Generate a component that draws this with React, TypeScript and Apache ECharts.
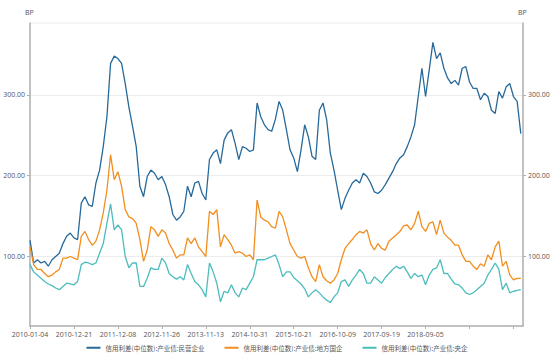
import React, { useEffect, useRef } from "react";
import * as echarts from "echarts";

// x tick labels, one every 12 sample points
const xTickLabels = [
  "2010-01-04", "2010-12-21", "2011-12-08", "2012-11-26", "2013-11-13",
  "2014-10-31", "2015-10-21", "2016-10-09", "2017-09-19", "2018-09-05",
];
const POINTS_PER_TICK = 12;
const X_MAX = 134.6;

const seriesNames = [
  "信用利差(中位数):产业债:民营企业",
  "信用利差(中位数):产业债:地方国企",
  "信用利差(中位数):产业债:央企",
];

const privateEnt = [
  120, 92, 96, 92, 94, 88, 96, 100, 104, 116, 125, 129, 123, 121, 166, 174, 164, 162, 191, 207,
  236, 273, 339, 348, 345, 339, 314, 285, 261, 236, 187, 174, 199, 207, 203,
  195, 199, 189, 174, 152, 145, 149, 156, 187, 174, 191, 193, 178, 170, 220, 228, 232, 215, 244,
  253, 257, 240, 220, 236, 234, 230, 232, 290, 273, 263, 257, 255, 270, 292,
  281, 257, 232, 222, 205, 232, 263, 248, 224, 220, 281, 290, 269, 228, 207, 182, 158, 172, 182,
  191, 195, 191, 203, 199, 191, 180, 178, 182, 189, 197, 205, 215, 222, 226,
  236, 248, 263, 298, 333, 298, 331, 365, 345, 352, 333, 321, 314, 318, 312, 333, 335, 316, 308,
  308, 294, 302, 298, 281, 277, 304, 296, 310, 314, 298, 292, 252,
];

const localSOE = [
  112, 90, 84, 84, 79, 75, 77, 81, 84, 98, 98, 100, 98, 96, 125, 131, 121, 114, 119, 133,
  154, 182, 226, 195, 205, 187, 158, 149, 147, 141, 121, 94, 108, 137, 133,
  125, 133, 129, 116, 108, 98, 102, 102, 123, 116, 123, 112, 106, 100, 156, 152, 158, 112, 127,
  121, 114, 104, 106, 104, 100, 102, 96, 170, 149, 145, 143, 137, 135, 156,
  149, 133, 116, 108, 100, 98, 100, 86, 75, 69, 90, 75, 70, 67, 71, 79, 96, 110, 116,
  121, 127, 131, 129, 133, 116, 108, 116, 110, 108, 119, 123, 127, 131, 138,
  139, 133, 141, 156, 137, 131, 141, 143, 127, 145, 129, 124, 120, 114, 114, 102, 94, 94, 88,
  84, 91, 88, 102, 96, 112, 119, 88, 94, 77, 71, 73, 73,
];

const centralSOE = [
  90, 81, 77, 73, 69, 66, 64, 61, 59, 63, 67, 66, 65, 69, 90, 93, 92, 90, 92, 104,
  116, 141, 165, 133, 139, 133, 100, 86, 92, 92, 63, 63, 73, 86, 84,
  84, 98, 92, 79, 75, 72, 75, 71, 90, 79, 69, 65, 59, 50, 92, 81, 67, 44, 57,
  55, 65, 55, 50, 61, 59, 67, 75, 96, 96, 96, 98, 100, 102, 90,
  75, 81, 81, 74, 70, 66, 60, 50, 55, 59, 55, 50, 46, 43, 50, 55, 69, 71, 63,
  71, 77, 84, 79, 67, 67, 75, 71, 67, 74, 79, 84, 88, 85, 88,
  81, 73, 79, 75, 77, 65, 77, 84, 86, 96, 79, 79, 72, 66, 65, 61, 55, 53, 55,
  59, 63, 67, 77, 84, 92, 84, 59, 67, 55, 57, 58, 59,
];

const yTickValues = [100, 200, 300];
const Y_MIN = 14;
const Y_MAX = 389;
const yUnit = "BP";

const colors = ["#27699a", "#f28e1e", "#4dbcbd"];

const toPairs = (arr: number[]) => arr.map((v, i) => [i, v]);

const labelColor = "#555";
const axisGray = "#b0b0b0";
const fontFamily = "'Open Sans', 'Noto Sans CJK SC', sans-serif";
const cjkFont = "'Noto Sans CJK SC', sans-serif";

const GRID = { left: 30, right: 31, top: 23, bottom: 31 };

export default function App() {
  const ref = useRef<HTMLDivElement>(null);

  useEffect(() => {
    if (!ref.current) return;
    const chart = echarts.init(ref.current, undefined, { renderer: "svg" });

    const yAxisCommon = (position: "left" | "right", showSplit: boolean) => ({
      type: "value",
      position,
      min: Y_MIN,
      max: Y_MAX,
      axisLine: { show: true, lineStyle: { color: axisGray, width: 1.5 } },
      axisTick: { show: true, length: 3, customValues: yTickValues, lineStyle: { color: axisGray } },
      axisLabel: {
        customValues: yTickValues,
        color: labelColor,
        fontSize: 7,
        fontFamily,
        margin: 5,
        formatter: (v: number) => v.toFixed(2),
      },
      splitLine: { show: showSplit, lineStyle: { color: "#ececec", width: 1 } },
    });

    const unitText = (left: number) => ({
      type: "text",
      left,
      top: 9,
      style: {
        text: yUnit,
        fill: labelColor,
        fontSize: 7,
        fontFamily,
      },
    });

    chart.setOption({
      animation: false,
      color: colors,
      textStyle: { fontFamily },
      grid: {
        ...GRID,
        show: true,
        borderColor: "#ececec",
        borderWidth: 1,
        containLabel: false,
        outerBoundsMode: "none",
      },
      graphic: [unitText(25), unitText(518)],
      legend: {
        bottom: 1,
        left: "center",
        icon: "rect",
        itemWidth: 14,
        itemHeight: 2,
        itemGap: 20,
        textStyle: { color: labelColor, fontSize: 6.5, fontFamily: cjkFont },
        data: seriesNames,
      },
      xAxis: {
        type: "value",
        min: 0,
        max: X_MAX,
        interval: POINTS_PER_TICK,
        axisLine: { show: true, lineStyle: { color: axisGray, width: 1.5 } },
        axisTick: { show: true, length: 3, lineStyle: { color: axisGray } },
        splitLine: { show: false },
        axisLabel: {
          color: labelColor,
          fontSize: 7,
          fontFamily,
          margin: 5,
          showMaxLabel: false,
          formatter: (v: number) => {
            const k = Math.round(v / POINTS_PER_TICK);
            return Math.abs(k * POINTS_PER_TICK - v) < 1e-6 ? xTickLabels[k] ?? "" : "";
          },
        },
      },
      yAxis: [yAxisCommon("left", true), yAxisCommon("right", false)],
      series: [
        { name: seriesNames[0], data: toPairs(privateEnt) },
        { name: seriesNames[1], data: toPairs(localSOE) },
        { name: seriesNames[2], data: toPairs(centralSOE) },
      ].map((s, k) => ({
        ...s,
        type: "line",
        symbol: "none",
        yAxisIndex: 0,
        lineStyle: { width: 1.3, color: colors[k] },
        itemStyle: { color: colors[k] },
      })),
    });

    return () => chart.dispose();
  }, []);

  return (
    <div
      ref={ref}
      style={{ position: "absolute", left: 0, top: 0, width: 554, height: 357 }}
    />
  );
}
